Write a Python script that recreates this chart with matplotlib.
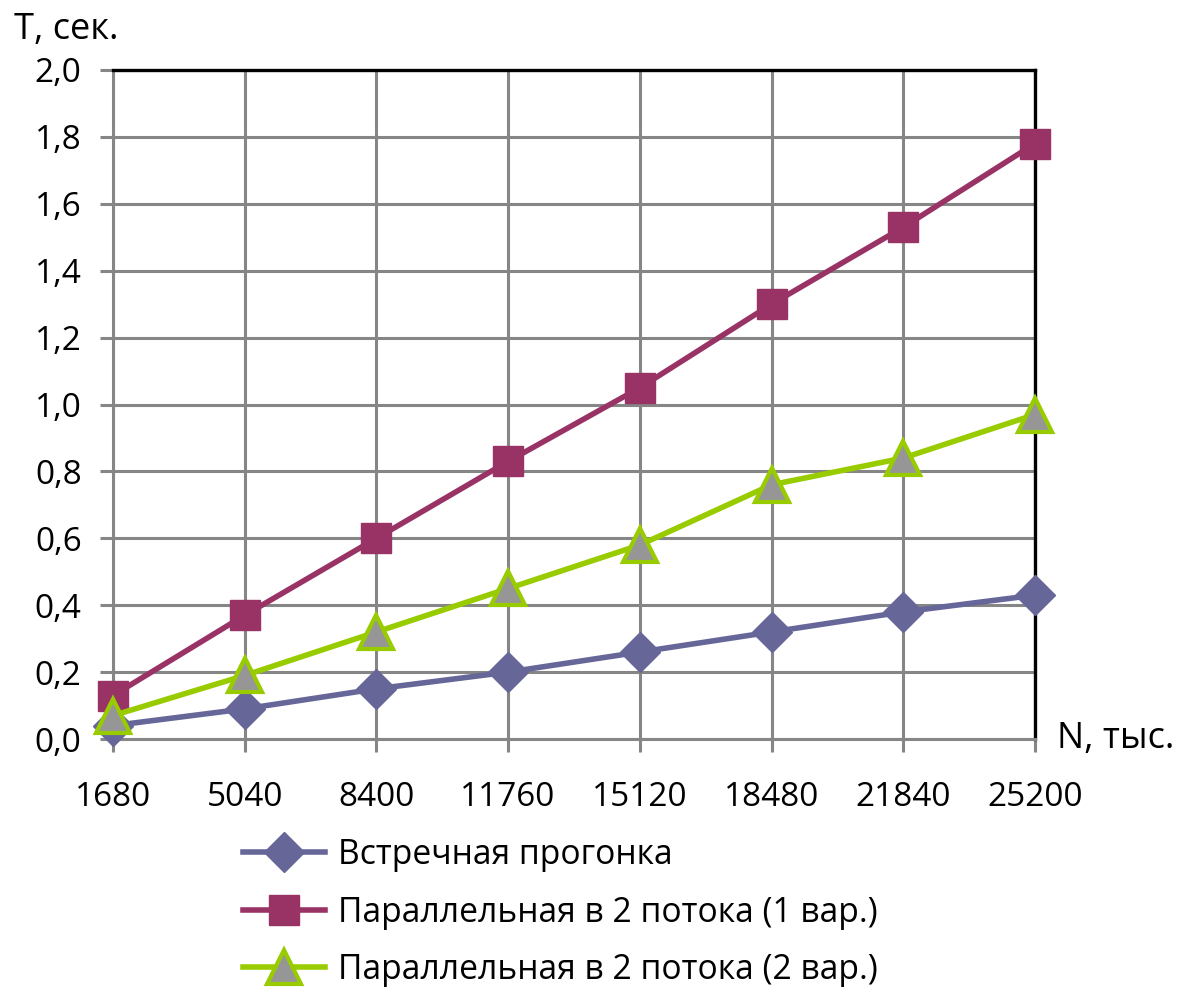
import matplotlib
matplotlib.use("Agg")
import matplotlib.pyplot as plt

plt.rcParams['font.family'] = ['Open Sans', 'DejaVu Sans']

categories = ["1680", "5040", "8400", "11760", "15120", "18480", "21840", "25200"]
vstrechnaya = [0.04, 0.09, 0.15, 0.20, 0.26, 0.32, 0.38, 0.43]
parallel_1 = [0.13, 0.37, 0.60, 0.83, 1.05, 1.30, 1.53, 1.78]
parallel_2 = [0.07, 0.19, 0.32, 0.45, 0.58, 0.76, 0.84, 0.97]
y_ticks = [0.0, 0.2, 0.4, 0.6, 0.8, 1.0, 1.2, 1.4, 1.6, 1.8, 2.0]
series_labels = ["Встречная прогонка",
                 "Параллельная в 2 потока (1 вар.)",
                 "Параллельная в 2 потока (2 вар.)"]

W, H = 1182, 992
fig = plt.figure(figsize=(W / 100, H / 100), dpi=100)
ax = fig.add_axes([113 / W, 1 - 739 / H, (1035 - 113) / W, (739 - 70) / H])

x = list(range(len(categories)))
grid_c = "#868686"

ax.set_xlim(0, len(categories) - 1)
ax.set_ylim(0, 2.0)
ax.set_yticks(y_ticks)
ax.set_yticklabels([f"{v:.1f}".replace(".", ",") for v in y_ticks])
ax.set_xticks(x)
ax.set_xticklabels(categories)

ax.grid(True, axis="both", color=grid_c, linewidth=2.2, zorder=0)
ax.set_axisbelow(True)
for side in ("left", "bottom"):
    ax.spines[side].set_color(grid_c)
    ax.spines[side].set_linewidth(2.2)
for side in ("top", "right"):
    ax.spines[side].set_color("black")
    ax.spines[side].set_linewidth(2.4)

ax.tick_params(axis="both", length=9.5, width=2.2, color=grid_c, labelsize=24)
ax.tick_params(axis="y", pad=13)
ax.tick_params(axis="x", pad=21)

l1, = ax.plot(x, vstrechnaya, color="#666699", linewidth=4, marker="D",
              markersize=20, markerfacecolor="#666699", markeredgecolor="#666699",
              clip_on=False, zorder=4)
l2, = ax.plot(x, parallel_1, color="#993366", linewidth=4, marker="s",
              markersize=21, markerfacecolor="#993366", markeredgecolor="#993366",
              clip_on=False, zorder=3)
l3, = ax.plot(x, parallel_2, color="#99CC00", linewidth=4, marker="^",
              markersize=24, markerfacecolor="#969696", markeredgecolor="#99CC00",
              markeredgewidth=3, clip_on=False, zorder=5)

fig.text(14 / W, 1 - 30 / H, "T, сек.", fontsize=26, va="center", ha="left")
fig.text(1057 / W, 1 - 739 / H, "N, тыс.", fontsize=26, va="center", ha="left")

leg = fig.legend([l1, l2, l3], series_labels, loc="upper left",
                 bbox_to_anchor=(243 / W, 1 - 838 / H), frameon=False,
                 fontsize=24.2, handlelength=2.45, handletextpad=0.38,
                 labelspacing=0.7, borderpad=0, borderaxespad=0)

fig.savefig("out.png", dpi=100, facecolor="white")
